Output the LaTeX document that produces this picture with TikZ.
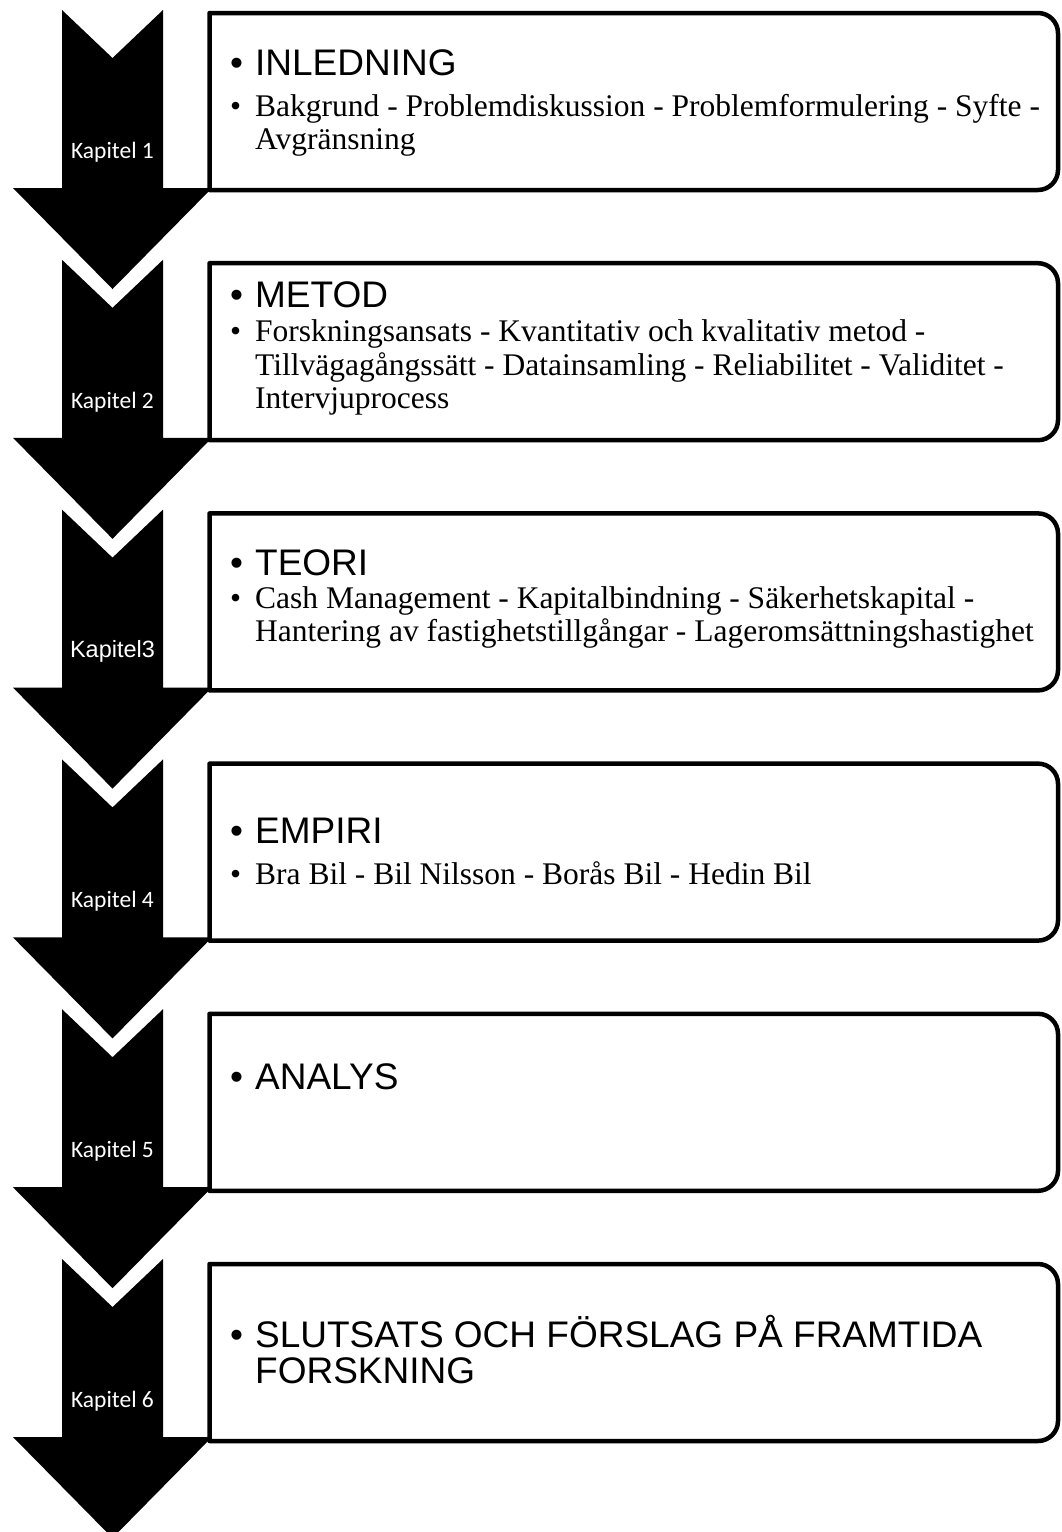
\documentclass[tikz,border=0pt]{standalone}
\usepackage{fontspec}
\setmainfont{Liberation Serif}
\setsansfont{Liberation Sans}
\newfontfamily\kapfont{Carlito}
\usetikzlibrary{calc}

\tikzset{
  kapitel/.style={fill=black},
  kaplabel/.style={text=white, inner sep=0pt, font=\kapfont\fontsize{23.5}{26}\selectfont},
  boxarea/.style={inner sep=0pt, outer sep=0pt, minimum width=848.5pt, minimum height=177pt},
  boxline/.style={line width=4.5pt, line join=round},
  boxtext/.style={anchor=base west, inner sep=0pt, font=\fontsize{31.5}{31}\selectfont},
}
\newcommand\head[1]{{\sffamily\fontsize{37}{31}\selectfont #1}}
\newcommand\itm{\makebox[25pt][l]{•}}

\begin{document}
\begin{tikzpicture}[x=1pt, y=-1pt]
  \useasboundingbox (0,0) rectangle (1061,1532);

  % pilar
  \foreach \i/\kap in {0/Kapitel 1, 1/Kapitel 2, 2/{\sffamily\fontsize{23.5}{26}\selectfont Kapitel3}, 3/Kapitel 4, 4/Kapitel 5, 5/Kapitel 6}
  {
    \pgfmathsetmacro\b{188+\i*249.8}
    \fill[kapitel] (62,\b-178) -- (112.5,\b-130) -- (163,\b-178) -- (163,\b) -- (212,\b)
      -- (112.5,\b+101) -- (13,\b) -- (62,\b) -- cycle;
    \node[kaplabel] (kap\i) at (112.5,\b-36) {\kap};
  }

  % rutor
  \foreach \i in {0,...,5}
  {
    \pgfmathsetmacro\t{13+\i*250.2}
    \node[boxarea] (box\i) at (633.75,\t+88.5) {};
    \draw[boxline] (box\i.south west) -- (box\i.north west)
      -- ([xshift=-20pt]box\i.north east)
      .. controls ([xshift=-9pt]box\i.north east) and ([yshift=-9pt]box\i.north east) .. ([yshift=-20pt]box\i.north east)
      -- ([yshift=20pt]box\i.south east)
      .. controls ([yshift=9pt]box\i.south east) and ([xshift=-9pt]box\i.south east) .. ([xshift=-20pt]box\i.south east)
      -- cycle;
  }

  \node[boxtext] (txt0) at ([shift={(20.5,62)}]box0.north west) {\begin{tabular}[t]{@{}l@{}l@{}}
    \head{\itm} & \head{INLEDNING}\\[10pt]
    \itm & Bakgrund - Problemdiskussion - Problemformulering - Syfte -\\[2pt]
    & Avgränsning
  \end{tabular}};

  \node[boxtext] (txt1) at ([shift={(20.5,44)}]box1.north west) {\begin{tabular}[t]{@{}l@{}l@{}}
    \head{\itm} & \head{METOD}\\[3pt]
    \itm & Forskningsansats - Kvantitativ och kvalitativ metod -\\[2pt]
    & Tillvägagångssätt - Datainsamling - Reliabilitet - Validitet -\\[2pt]
    & Intervjuprocess
  \end{tabular}};

  \node[boxtext] (txt2) at ([shift={(20.5,62)}]box2.north west) {\begin{tabular}[t]{@{}l@{}l@{}}
    \head{\itm} & \head{TEORI}\\[2pt]
    \itm & Cash Management - Kapitalbindning - Säkerhetskapital -\\[1pt]
    & Hantering av fastighetstillgångar - Lageromsättningshastighet
  \end{tabular}};

  \node[boxtext] (txt3) at ([shift={(20.5,80)}]box3.north west) {\begin{tabular}[t]{@{}l@{}l@{}}
    \head{\itm} & \head{EMPIRI}\\[9pt]
    \itm & Bra Bil - Bil Nilsson - Borås Bil - Hedin Bil
  \end{tabular}};

  \node[boxtext] (txt4) at ([shift={(20.5,76)}]box4.north west) {\begin{tabular}[t]{@{}l@{}l@{}}
    \head{\itm} & \head{ANALYS}
  \end{tabular}};

  \node[boxtext] (txt5) at ([shift={(20.5,83)}]box5.north west) {\begin{tabular}[t]{@{}l@{}l@{}}
    \head{\itm} & \head{SLUTSATS OCH FÖRSLAG PÅ FRAMTIDA}\\[1.7pt]
    & \head{FORSKNING}
  \end{tabular}};
\end{tikzpicture}
\end{document}
